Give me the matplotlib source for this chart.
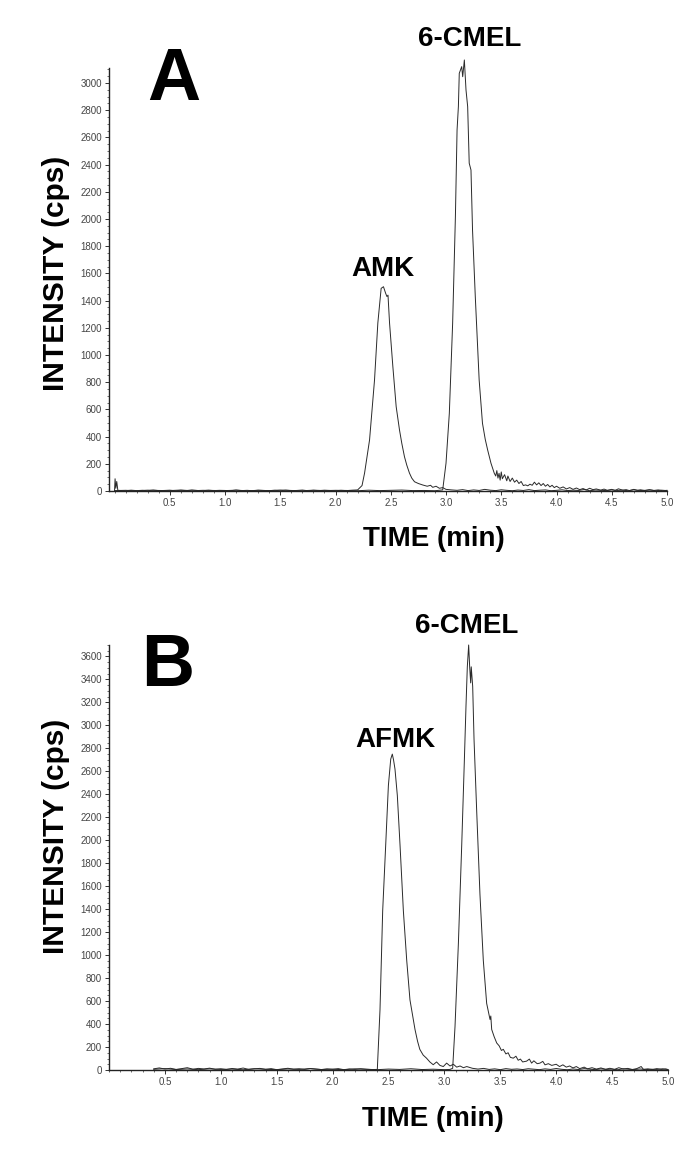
import matplotlib
matplotlib.use("Agg")
import matplotlib.pyplot as plt
from matplotlib.ticker import MultipleLocator, FixedLocator

plt.rcParams['font.family'] = ['Liberation Sans', 'DejaVu Sans']

# ---------------- Panel A data ----------------
A_amk_t = [0.000, 0.005, 0.012, 0.020, 0.030,
           0.05, 0.10, 0.15, 0.20, 0.25, 0.30, 0.35, 0.40, 0.45, 0.50,
           0.55, 0.60, 0.65, 0.70, 0.75, 0.80, 0.85, 0.90, 0.95, 1.00,
           1.05, 1.10, 1.15, 1.20, 1.25, 1.30, 1.35, 1.40, 1.45, 1.50,
           1.55, 1.60, 1.65, 1.70, 1.75, 1.80, 1.85, 1.90, 1.95, 2.00,
           2.05, 2.10, 2.15,
           2.20, 2.24, 2.263, 2.308, 2.353, 2.383, 2.413, 2.434, 2.453, 2.465,
           2.475, 2.489, 2.519, 2.549, 2.579, 2.600, 2.624, 2.645, 2.669, 2.690,
           2.715, 2.750, 2.790, 2.830, 2.860, 2.880, 2.910, 2.940, 2.970, 3.000,
           3.05,
           3.10, 3.15, 3.20, 3.25, 3.30, 3.35, 3.40, 3.45, 3.50, 3.55,
           3.60, 3.65, 3.70, 3.75, 3.80, 3.85, 3.90, 3.95, 4.00, 4.05,
           4.10, 4.15, 4.20, 4.25, 4.30, 4.35, 4.40, 4.45, 4.50, 4.55,
           4.60, 4.65, 4.70, 4.75, 4.80, 4.85, 4.90, 4.95, 5.00]
A_amk_i = [0, 90, 20, 70, 5,
           4, 2, 6, 3, 5, 2, 7, 3, 4, 6,
           2, 5, 3, 8, 4, 2, 6, 3, 5, 4,
           2, 7, 3, 5, 2, 6, 4, 3, 5, 2,
           6, 3, 4, 7, 2, 5, 3, 6, 4, 2,
           5, 3, 6,
           8, 40, 132, 375, 816, 1235, 1490, 1502, 1455, 1430,
           1440, 1235, 914, 620, 449, 350, 252, 190, 132, 95,
           68, 55, 44, 35, 42, 27, 35, 20, 25, 12,
           8,
           5, 10, 3, 8, 4, 12, 6, 3, 9, 5,
           2, 7, 4, 10, 3, 6, 8, 2, 5, 9,
           3, 6, 4, 11, 2, 7, 5, 3, 8, 4,
           6, 2, 9, 3, 5, 7, 2, 6, 3]

A_cmel_t = [0.0, 0.1, 0.2, 0.3, 0.4, 0.5, 0.6, 0.7, 0.8, 0.9,
            1.0, 1.1, 1.2, 1.3, 1.4, 1.5, 1.6, 1.7, 1.8, 1.9,
            2.0, 2.1, 2.2, 2.3, 2.4, 2.5, 2.6, 2.7, 2.8, 2.9,
            2.97, 3.00, 3.03, 3.06, 3.085, 3.10, 3.112, 3.12, 3.142, 3.151,
            3.166, 3.181, 3.196, 3.21, 3.226, 3.24, 3.265, 3.30, 3.33, 3.355,
            3.377, 3.407, 3.437,
            3.45, 3.46, 3.47, 3.48, 3.49, 3.50, 3.51, 3.53, 3.55, 3.56,
            3.58, 3.60, 3.62, 3.64, 3.66, 3.68, 3.70, 3.72, 3.74, 3.76,
            3.78, 3.80, 3.82, 3.84, 3.86, 3.88, 3.90, 3.92, 3.94, 3.96,
            3.98, 4.00, 4.03, 4.06, 4.09, 4.12, 4.15, 4.18, 4.21, 4.24,
            4.27, 4.30, 4.33, 4.36, 4.40, 4.43, 4.46, 4.50, 4.53, 4.56,
            4.60, 4.63, 4.66, 4.70, 4.73, 4.76, 4.80, 4.84, 4.88, 4.92,
            4.96, 5.00]
A_cmel_i = [3, 5, 2, 6, 4, 3, 7, 2, 5, 4,
            3, 6, 2, 5, 3, 7, 4, 2, 6, 3,
            5, 4, 2, 6, 3, 5, 7, 3, 4, 2,
            8, 204, 571, 1233, 2017, 2654, 2826, 3071, 3120, 3046,
            3169, 2948, 2826, 2410, 2360, 1919, 1429, 816, 498, 380,
            301, 204, 130,
            110, 150, 95, 130, 80, 140, 90, 120, 75, 110,
            70, 95, 65, 80, 55, 70, 40, 45, 38, 50,
            42, 65, 45, 60, 40, 55, 35, 48, 30, 42,
            25, 35, 20, 30, 15, 25, 12, 22, 10, 18,
            8, 20, 10, 15, 6, 14, 5, 12, 4, 16,
            6, 10, 3, 12, 5, 9, 3, 10, 4, 8,
            2, 5]

# ---------------- Panel B data ----------------
B_afmk_t = [0.40, 0.45, 0.50, 0.55, 0.60, 0.65, 0.70, 0.75, 0.80, 0.85,
            0.90, 0.95, 1.00, 1.05, 1.10, 1.15, 1.20, 1.25, 1.30, 1.35,
            1.40, 1.45, 1.50, 1.55, 1.60, 1.65, 1.70, 1.75, 1.80, 1.85,
            1.90, 1.95, 2.00, 2.05, 2.10, 2.15, 2.20, 2.25, 2.30, 2.35,
            2.40, 2.424, 2.448, 2.475, 2.499, 2.520, 2.534, 2.545, 2.558, 2.579,
            2.603, 2.633, 2.663, 2.692, 2.737, 2.760, 2.780, 2.810, 2.840, 2.870,
            2.900, 2.930, 2.960, 2.990, 3.020, 3.050, 3.080, 3.110, 3.140, 3.170,
            3.200, 3.250,
            3.30, 3.35, 3.40, 3.45, 3.50, 3.55, 3.60, 3.65, 3.70, 3.75,
            3.80, 3.85, 3.90, 3.95, 4.00, 4.05, 4.10, 4.15, 4.20, 4.25,
            4.30, 4.35, 4.40, 4.45, 4.50, 4.55, 4.60, 4.65, 4.70, 4.75,
            4.80, 4.85, 4.90, 4.95, 5.00]
B_afmk_i = [10, 18, 8, 15, 5, 12, 20, 7, 14, 9,
            16, 6, 11, 4, 13, 8, 17, 5, 10, 14,
            6, 12, 3, 9, 15, 7, 11, 5, 13, 8,
            4, 10, 6, 12, 3, 9, 5, 11, 7, 4,
            5, 525, 1387, 1960, 2477, 2707, 2750, 2700, 2620, 2390,
            1960, 1385, 954, 610, 353, 250, 180, 130, 103, 70,
            46, 70, 40, 30, 60, 35, 50, 25, 35, 20,
            30, 15,
            8, 14, 5, 10, 3, 12, 6, 9, 4, 11,
            7, 3, 10, 5, 13, 6, 2, 9, 4, 12,
            7, 3, 10, 5, 8, 2, 11, 6, 4, 9,
            3, 7, 5, 10, 4]

B_cmel_t = [0.4, 0.5, 0.6, 0.7, 0.8, 0.9, 1.0, 1.1, 1.2, 1.3,
            1.4, 1.5, 1.6, 1.7, 1.8, 1.9, 2.0, 2.1, 2.2, 2.3,
            2.4, 2.5, 2.6, 2.7, 2.8, 2.9, 3.0,
            3.05, 3.074, 3.095, 3.125, 3.155, 3.178, 3.193, 3.205, 3.217, 3.226,
            3.235, 3.240, 3.253, 3.265, 3.289, 3.318, 3.348, 3.378, 3.408, 3.415,
            3.423, 3.445, 3.468, 3.490, 3.510, 3.527, 3.550, 3.570, 3.590, 3.616,
            3.640, 3.660, 3.680, 3.700, 3.735, 3.760, 3.780, 3.800, 3.830, 3.855,
            3.880, 3.900, 3.930, 3.960, 4.000, 4.030, 4.060, 4.090, 4.120, 4.150,
            4.180, 4.210, 4.250, 4.280, 4.320, 4.360, 4.400, 4.440, 4.480, 4.520,
            4.560, 4.600, 4.640, 4.680, 4.720, 4.760, 4.780, 4.820, 4.860, 4.900,
            4.940, 4.980, 5.000]
B_cmel_i = [6, 12, 4, 9, 3, 10, 5, 8, 2, 11,
            6, 3, 9, 5, 12, 4, 7, 2, 10, 6,
            3, 8, 5, 11, 4, 7, 3,
            5, 15, 380, 1100, 1960, 2680, 3165, 3510, 3700, 3510,
            3370, 3510, 3340, 2880, 2250, 1530, 954, 580, 440, 470,
            353, 290, 235, 210, 170, 180, 140, 150, 110, 103,
            120, 85, 95, 70, 77, 95, 60, 80, 55, 60,
            75, 45, 55, 40, 50, 30, 45, 25, 35, 18,
            30, 12, 25, 10, 20, 8, 18, 6, 15, 5,
            20, 8, 14, 4, 12, 30, 6, 10, 3, 12,
            5, 9, 4]

x_ticks = [0.5, 1.0, 1.5, 2.0, 2.5, 3.0, 3.5, 4.0, 4.5, 5.0]
x_ticklabels = ["0.5", "1.0", "1.5", "2.0", "2.5", "3.0", "3.5", "4.0", "4.5", "5.0"]
A_yticks = [0, 200, 400, 600, 800, 1000, 1200, 1400, 1600, 1800, 2000,
            2200, 2400, 2600, 2800, 3000]
B_yticks = [0, 200, 400, 600, 800, 1000, 1200, 1400, 1600, 1800, 2000,
            2200, 2400, 2600, 2800, 3000, 3200, 3400, 3600]

W, H = 691, 1153
fig = plt.figure(figsize=(W / 100, H / 100), dpi=100)


def px_axes(left, top, right, bottom):
    return fig.add_axes([left / W, 1 - bottom / H, (right - left) / W, (bottom - top) / H])


def style(ax, xlim, ylim, yticks):
    ax.set_xlim(*xlim)
    ax.set_ylim(*ylim)
    for s in ("top", "right"):
        ax.spines[s].set_visible(False)
    for s in ("left", "bottom"):
        ax.spines[s].set_linewidth(1.0)
        ax.spines[s].set_color("#222222")
    ax.xaxis.set_major_locator(FixedLocator(x_ticks))
    ax.set_xticklabels(x_ticklabels)
    ax.xaxis.set_minor_locator(MultipleLocator(0.1))
    ax.yaxis.set_major_locator(FixedLocator(yticks))
    ax.set_yticklabels([str(v) for v in yticks])
    ax.yaxis.set_minor_locator(MultipleLocator(50))
    ax.tick_params(which="major", direction="out", length=3, width=0.7,
                   color="#333333", labelsize=7, labelcolor="#444444", pad=2)
    ax.tick_params(which="minor", direction="out", length=1.5, width=0.5,
                   color="#333333")


lw = 0.7
lc = "#2a2a2a"

axA = px_axes(109, 68, 667, 491)
style(axA, (-0.05, 5.0), (0, 3110), A_yticks)
axA.plot(A_amk_t, A_amk_i, color=lc, lw=lw, clip_on=False)
axA.plot(A_cmel_t, A_cmel_i, color=lc, lw=lw, clip_on=False)

axB = px_axes(109, 645, 668, 1070)
style(axB, (0.0, 5.0), (0, 3700), B_yticks)
axB.plot(B_afmk_t, B_afmk_i, color=lc, lw=lw, clip_on=False)
axB.plot(B_cmel_t, B_cmel_i, color=lc, lw=lw, clip_on=False)


def ftext(xp, yp, s, **kw):
    fig.text(xp / W, 1 - yp / H, s, **kw)


bold = dict(fontweight="bold", color="black")
# panel letters
ftext(174, 100, "A", fontsize=53, ha="center", va="baseline", **bold)
ftext(168, 686, "B", fontsize=53, ha="center", va="baseline", **bold)
# peak labels
ftext(383, 276, "AMK", fontsize=20, ha="center", va="baseline", **bold)
ftext(470, 46, "6-CMEL", fontsize=20, ha="center", va="baseline", **bold)
ftext(395, 747, "AFMK", fontsize=20, ha="center", va="baseline", **bold)
ftext(467, 633, "6-CMEL", fontsize=20, ha="center", va="baseline", **bold)
# axis labels
ftext(434, 546, "TIME (min)", fontsize=20, ha="center", va="baseline", **bold)
ftext(433, 1126, "TIME (min)", fontsize=20, ha="center", va="baseline", **bold)
ftext(56, 273, "INTENSITY (cps)", fontsize=21.5, rotation=90, ha="center", va="center", **bold)
ftext(56, 836, "INTENSITY (cps)", fontsize=21.5, rotation=90, ha="center", va="center", **bold)

fig.savefig("out.png", dpi=100)
